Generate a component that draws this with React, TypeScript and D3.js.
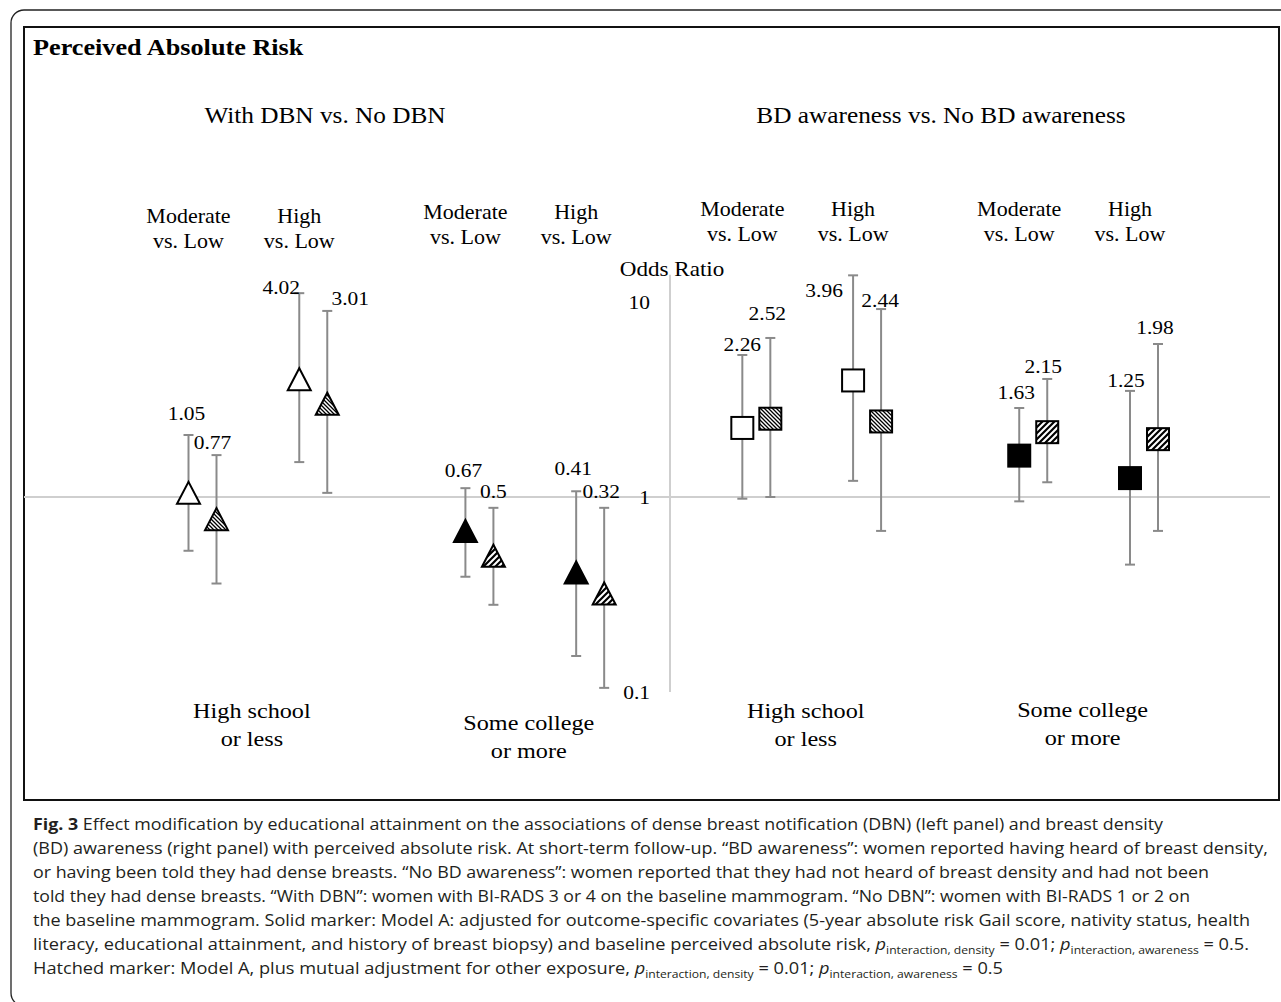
import React from "react";
import * as d3 from "d3";

// ---------------- DATA ----------------
const chartTitle = "Perceived Absolute Risk";
const panelTitles = ["With DBN vs. No DBN", "BD awareness vs. No BD awareness"];
const educationGroups = [
  ["High school", "or less"],
  ["Some college", "or more"],
  ["High school", "or less"],
  ["Some college", "or more"],
];
const groupPanel = [0, 0, 1, 1];
const comparisons = [
  ["Moderate", "vs. Low"],
  ["High", "vs. Low"],
];
// order: group0-Moderate, group0-High, group1-Moderate, group1-High, ...
const solidOR = [1.05, 4.02, 0.67, 0.41, 2.26, 3.96, 1.63, 1.25];
const solidLower = [0.53, 1.51, 0.39, 0.153, 0.98, 1.21, 0.95, 0.45];
const solidUpper = [2.08, 11.1, 1.11, 1.07, 5.35, 13.7, 2.86, 3.5];
const hatchedOR = [0.77, 3.01, 0.5, 0.32, 2.52, 2.44, 2.15, 1.98];
const hatchedLower = [0.36, 1.05, 0.28, 0.105, 1.0, 0.67, 1.19, 0.67];
const hatchedUpper = [1.64, 9.0, 0.88, 0.88, 6.54, 9.2, 4.03, 6.09];
const yTicks = [0.1, 1, 10];
const yTickLabels = ["0.1", "1", "10"];
const axisTitle = "Odds Ratio";

// ---------------- LAYOUT ----------------
const W = 1281;
const H = 1002;
const SERIF = "'Liberation Serif', 'Times New Roman', serif";
const SANS = "'Open Sans', 'Noto Sans', sans-serif";
const SX = 1.1;
const seriesOffset = 14;
const solidLabelOffset = [[-2, -22], [-18, -6], [-2, -18], [-3, -23], [0, -11], [-29, 15], [-3, -16], [-4, -11]];
const hatchedLabelOffset = [[-4, -13], [23, -13], [0, -17], [-3, -17], [-3, -25], [-1, -9], [-4, -13], [-3, -17]];
const headerBaseline = [223, 219, 216, 216];
const bottomBaseline = [718, 730, 718, 717];
const panelTitleX = [325, 941];

function T({ x, y, size, sx = SX, anchor = "middle", weight = "normal", family = SERIF, children }: any) {
  return (
    <text
      transform={`translate(${x},${y}) scale(${sx},1)`}
      fontSize={size}
      textAnchor={anchor}
      fontWeight={weight}
      fontFamily={family}
      fill="#000"
    >
      {children}
    </text>
  );
}

function Sub({ children }: any) {
  return (
    <>
      <tspan fontStyle="italic">p</tspan>
      <tspan fontSize={11} dy={4}>{children}</tspan>
      <tspan dy={-4}>{" "}</tspan>
    </>
  );
}

export default function App() {
  const y = d3.scaleLog().domain([0.1, 10]).range([692, 302]);
  const x = d3.scaleLinear().domain([0, 17]).range([202.5, 1144]);
  const axisX = 670;
  const axisTopValue = 13.8;

  const points = solidOR.map((_, i) => {
    const g = Math.floor(i / 2);
    const c = i % 2;
    const cx = x(g * 5 + c * 2);
    return { i, g, c, cx };
  });

  const marker = (shape: string, cx: number, cy: number, fill: string, key: string) => {
    if (shape === "triangle") {
      const w = 11.5, h = 11;
      const pts = [[cx - w, cy + h], [cx + w, cy + h], [cx, cy - h]];
      return <path key={key} d={d3.line()(pts as any) + "Z"} fill={fill} stroke="#000" strokeWidth={2} strokeLinejoin="miter" />;
    }
    return <rect key={key} x={cx - 11} y={cy - 11} width={22} height={22} fill={fill} stroke="#000" strokeWidth={2} />;
  };

  const errorBar = (cx: number, lo: number, hi: number, key: string) => (
    <g key={key} stroke="#8a8a8a" strokeWidth={2}>
      <line x1={cx} x2={cx} y1={y(hi)} y2={y(lo)} />
      <line x1={cx - 5} x2={cx + 5} y1={y(hi)} y2={y(hi)} />
      <line x1={cx - 5} x2={cx + 5} y1={y(lo)} y2={y(lo)} />
    </g>
  );

  const captionLines: any[] = [
    { w: 1130, c: (<><tspan fontWeight="bold">Fig. 3</tspan>{"  Effect modification by educational attainment on the associations of dense breast notification (DBN) (left panel) and breast density"}</>) },
    { w: 1235, c: "(BD) awareness (right panel) with perceived absolute risk. At short-term follow-up. \u201CBD awareness\u201D: women reported having heard of breast density," },
    { w: 1176, c: "or having been told they had dense breasts. \u201CNo BD awareness\u201D: women reported that they had not heard of breast density and had not been" },
    { w: 1157, c: "told they had dense breasts. \u201CWith DBN\u201D: women with BI-RADS 3 or 4 on the baseline mammogram. \u201CNo DBN\u201D: women with BI-RADS 1 or 2 on" },
    { w: 1217, c: "the baseline mammogram. Solid marker: Model A: adjusted for outcome-specific covariates (5-year absolute risk Gail score, nativity status, health" },
    { w: 1216, c: (<>{"literacy, educational attainment, and history of breast biopsy) and baseline perceived absolute risk, "}<Sub>interaction, density</Sub>{"= 0.01; "}<Sub>interaction, awareness</Sub>{"= 0.5."}</>) },
    { w: 970, c: (<>{"Hatched marker: Model A, plus mutual adjustment for other exposure, "}<Sub>interaction, density</Sub>{"= 0.01; "}<Sub>interaction, awareness</Sub>{"= 0.5"}</>) },
  ];

  return (
    <svg width={W} height={H} style={{ position: "absolute", left: 0, top: 0, background: "#fff" }}>
      <defs>
        <pattern id="hatchBack" patternUnits="userSpaceOnUse" width={4} height={4}>
          <rect width={4} height={4} fill="#fff" />
          <path d="M-1,-1 L5,5 M-1,3 L1,5 M3,-1 L5,1" stroke="#000" strokeWidth={1.3} />
        </pattern>
        <pattern id="hatchFwd" patternUnits="userSpaceOnUse" width={6} height={6}>
          <rect width={6} height={6} fill="#fff" />
          <path d="M-1,7 L7,-1 M-4,4 L4,-4 M2,10 L10,2" stroke="#000" strokeWidth={2.2} />
        </pattern>
      </defs>
      <rect x={0} y={0} width={W} height={H} fill="#fff" />
      {/* outer rounded frame */}
      <rect x={11} y={10} width={1300} height={996} rx={13} fill="none" stroke="#222" strokeWidth={1.3} />
      {/* inner box */}
      <rect x={24} y={27} width={1255} height={773} fill="none" stroke="#111" strokeWidth={2} />

      <T x={33} y={55} size={23} sx={1.14} weight="bold" anchor="start">{chartTitle}</T>
      {panelTitles.map((t, p) => (
        <T key={t} x={panelTitleX[p]} y={123} size={23}>{t}</T>
      ))}

      {/* reference line at OR = 1 and axis */}
      <line x1={24} x2={1270} y1={y(1)} y2={y(1)} stroke="#cfcfcf" strokeWidth={2} />
      <line x1={axisX} x2={axisX} y1={y(axisTopValue)} y2={y(0.1)} stroke="#cfcfcf" strokeWidth={2} />
      <T x={672} y={276} size={21}>{axisTitle}</T>
      {yTicks.map((t, k) => (
        <T key={t} x={650} y={y(t) + 7} size={19.5} anchor="end">{yTickLabels[k]}</T>
      ))}

      {/* headers */}
      {points.map((p) => (
        <g key={"h" + p.i}>
          <T x={p.cx - seriesOffset} y={headerBaseline[p.g]} size={20}>{comparisons[p.c][0]}</T>
          <T x={p.cx - seriesOffset} y={headerBaseline[p.g] + 25} size={20}>{comparisons[p.c][1]}</T>
        </g>
      ))}

      {/* bottom group labels */}
      {educationGroups.map((lines, g) => (
        <g key={"b" + g}>
          <T x={x(g * 5 + 1) - 6} y={bottomBaseline[g]} size={22}>{lines[0]}</T>
          <T x={x(g * 5 + 1) - 6} y={bottomBaseline[g] + 28} size={22}>{lines[1]}</T>
        </g>
      ))}

      {/* error bars */}
      {points.map((p) => (
        <g key={"e" + p.i}>
          {errorBar(p.cx - seriesOffset, solidLower[p.i], solidUpper[p.i], "es")}
          {errorBar(p.cx + seriesOffset, hatchedLower[p.i], hatchedUpper[p.i], "eh")}
        </g>
      ))}

      {/* markers */}
      {points.map((p) => {
        const shape = groupPanel[p.g] === 0 ? "triangle" : "square";
        const solidFill = p.g % 2 === 0 ? "#fff" : "#000";
        const hatchFill = p.g % 2 === 0 ? "url(#hatchBack)" : "url(#hatchFwd)";
        return (
          <g key={"m" + p.i}>
            {marker(shape, p.cx - seriesOffset, y(solidOR[p.i]), solidFill, "ms")}
            {marker(shape, p.cx + seriesOffset, y(hatchedOR[p.i]), hatchFill, "mh")}
          </g>
        );
      })}

      {/* value labels */}
      {points.map((p) => (
        <g key={"l" + p.i}>
          <T x={p.cx - seriesOffset + solidLabelOffset[p.i][0]} y={y(solidUpper[p.i]) + solidLabelOffset[p.i][1] + 7} size={19.5}>
            {String(solidOR[p.i])}
          </T>
          <T x={p.cx + seriesOffset + hatchedLabelOffset[p.i][0]} y={y(hatchedUpper[p.i]) + hatchedLabelOffset[p.i][1] + 7} size={19.5}>
            {String(hatchedOR[p.i])}
          </T>
        </g>
      ))}

      {/* caption */}
      {captionLines.map((l, k) => (
        <text
          key={"c" + k}
          x={33}
          y={830 + k * 24}
          fontFamily={SANS}
          fontSize={16.5}
          fill="#231f20"
          textLength={l.w}
          lengthAdjust="spacingAndGlyphs"
        >
          {l.c}
        </text>
      ))}
    </svg>
  );
}
